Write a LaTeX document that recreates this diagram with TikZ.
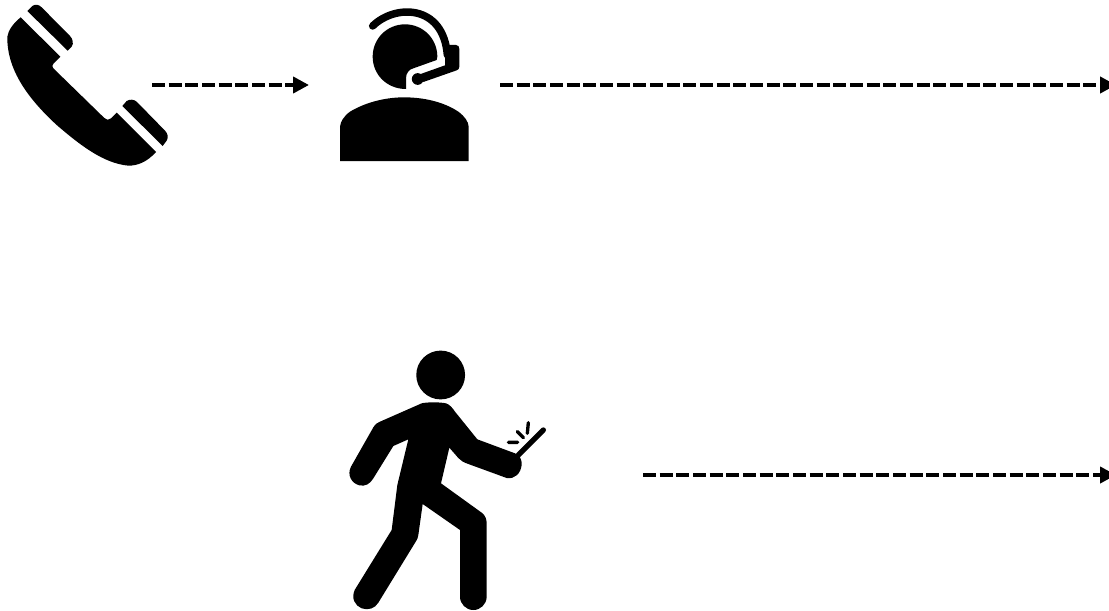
\documentclass[tikz,border=0pt]{standalone}
\usetikzlibrary{arrows.meta}
\tikzset{
  iconslot/.style={inner sep=0pt,outer sep=0pt,minimum height=12pt},
  flowarrow/.style={line width=3.4pt,dash pattern=on 9.75pt off 2.75pt,-{Triangle[length=12pt,width=12pt]}},
  zoomed/.style={x=.25pt,y=-.25pt}
}
\begin{document}
\begin{tikzpicture}[x=.75pt,y=-.75pt]
\clip (0,0) rectangle (1109,610);
\fill[white] (0,0) rectangle (1109,610);
% phone
\begin{scope}[zoomed]
\fill (82,33) -- (97,18) .. controls (106,12) and (116,13) .. (125,22) -- (210,108) .. controls (218,116) and (222,130) .. (215,140) -- (203,152) -- cycle;
\fill (62,52) -- (181,170) -- (161,190) .. controls (156,196) and (156,200) .. (160,205) -- (313,354) .. controls (319,361) and (327,361) .. (333,355) -- (350,338) -- (468,456) .. controls (440,487) and (412,497) .. (385,497) .. controls (310,490) and (240,435) .. (170,375) .. controls (100,310) and (20,220) .. (22,110) .. controls (25,90) and (40,70) .. (62,52) -- cycle;
\fill (367,318) -- (380,303) .. controls (390,297) and (402,298) .. (410,305) -- (495,392) .. controls (503,400) and (506,412) .. (500,422) -- (488,438) -- cycle;
\end{scope}
% agent
\begin{scope}[shift={(330,0)},zoomed]
\fill (320,180) .. controls (322,176) and (322,173) .. (322,170) .. controls (322,116) and (279,73) .. (225,73) .. controls (171,73) and (128,116) .. (128,170) .. controls (128,224) and (171,267) .. (228,267) -- (228,235) .. controls (228,218) and (238,208) .. (250,205) -- cycle;
\draw[line width=5.6pt,line cap=round] (128,78) .. controls (195,12) and (340,12) .. (352,165);
\fill (345,135) -- (378,135) .. controls (385,135) and (388,140) .. (388,147) -- (388,200) .. controls (388,206) and (385,209) .. (380,211) -- (280,246) -- (272,222) -- (345,196) -- cycle;
\fill (263,237) circle[radius=4.4pt];
\fill (30,483) -- (30,380) .. controls (32,365) and (40,350) .. (60,335) .. controls (110,305) and (170,292) .. (222,292) .. controls (280,292) and (340,305) .. (385,335) .. controls (405,350) and (415,365) .. (416,380) -- (416,483) -- cycle;
\end{scope}
% walker
\begin{scope}[shift={(340,340)},zoomed]
\fill (302,105) circle[radius=18.3pt];
\fill (245,190) .. controls (260,186) and (300,186) .. (318,190) .. controls (330,194) and (338,205) .. (345,215) -- (412,298) -- (525,340) .. controls (540,345) and (546,360) .. (545,375) .. controls (542,400) and (525,418) .. (500,414) -- (385,372) .. controls (370,367) and (362,362) .. (355,354) -- (328,323) -- (303,430) -- (425,518) .. controls (436,526) and (440,538) .. (440,550) -- (440,770) .. controls (440,792) and (422,810) .. (400,810) .. controls (378,810) and (360,792) .. (360,770) -- (360,570) -- (248,492) -- (235,585) .. controls (234,592) and (232,597) .. (229,602) -- (115,788) .. controls (105,805) and (85,812) .. (65,805) .. controls (45,797) and (33,775) .. (44,750) -- (155,570) -- (172,435) -- (205,298) -- (160,318) -- (100,415) .. controls (90,432) and (75,440) .. (58,436) .. controls (35,430) and (20,405) .. (33,380) -- (100,262) .. controls (106,252) and (112,248) .. (120,245) -- cycle;
\draw[line width=4pt,line cap=round] (535,345) -- (610,270);
\draw[line width=2.5pt,line cap=round] (505,307) -- (533,307) (532,275) -- (550,293) (565,248) -- (562,280);
\end{scope}
% connector ends
\node[iconslot,minimum width=108.75pt] (phone) at (79.5,85) {};
\node[iconslot,minimum width=143.25pt] (agent) at (404.5,85) {};
\node[iconslot,minimum width=227.25pt] (walker) at (491.5,475) {};
\coordinate (exitA) at (1116,85);
\coordinate (exitB) at (1116,475);
\draw[flowarrow] (phone.east) -- (agent.west);
\draw[flowarrow] (agent.east) -- (exitA);
\draw[flowarrow] (walker.east) -- (exitB);
\end{tikzpicture}
\end{document}
